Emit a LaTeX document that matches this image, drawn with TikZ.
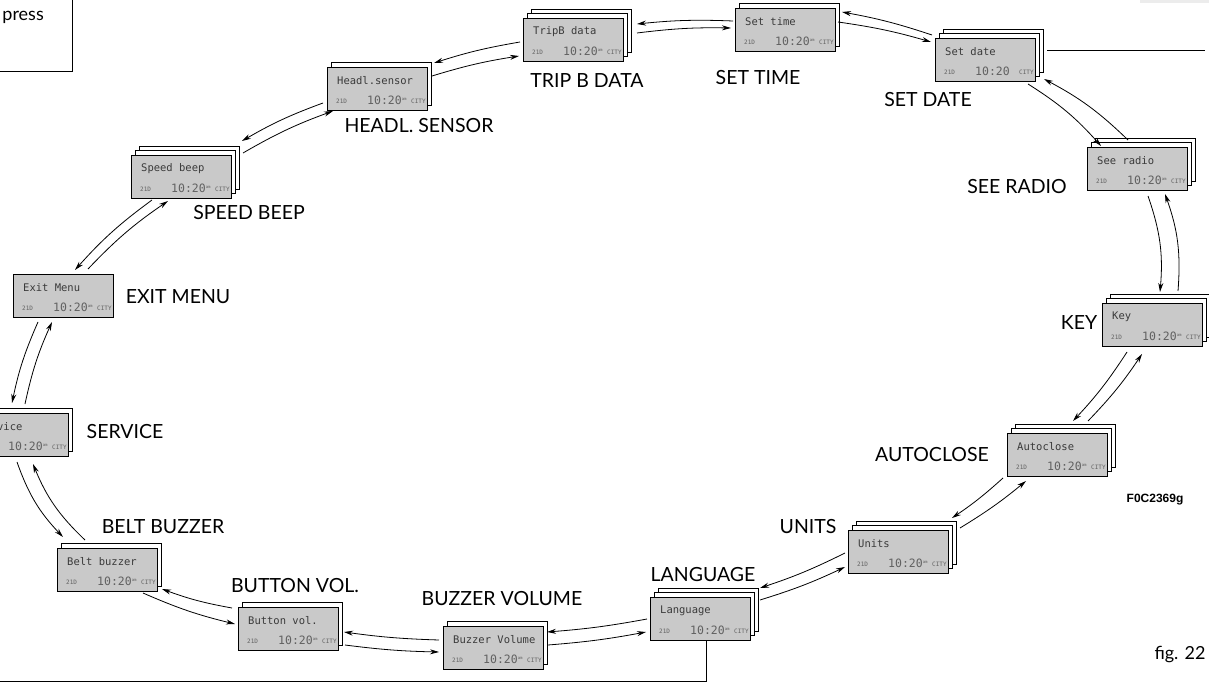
\documentclass[tikz,border=0pt]{standalone}
\usepackage{fontspec}
\setmainfont{Lato}
\newfontfamily\lcdfont{DejaVu Sans Mono}
\newfontfamily\codefont{Liberation Sans}
\usetikzlibrary{arrows.meta,calc}
\definecolor{lcdgray}{HTML}{C9C9C9}
\definecolor{lcdtext}{HTML}{3A3A3A}
\tikzset{
  screen/.style={draw=black, line width=0.9pt, fill=lcdgray, minimum width=100pt, minimum height=43pt, inner sep=0pt, anchor=north west},
  layer/.style={draw=black, line width=0.9pt, fill=white},
  ttl/.style={font=\lcdfont\fontsize{10.5}{10.5}\selectfont, text=lcdtext, anchor=west, inner sep=0pt},
  dig/.style={font=\lcdfont\fontsize{11.5}{11.5}\selectfont, text=black!62, anchor=west, inner sep=0pt},
  lcdsmall/.style={font=\lcdfont\fontsize{6}{6}\selectfont, text=black!62, anchor=west, inner sep=0pt},
  lbl/.style={font=\fontsize{19.5}{20}\selectfont, inner sep=0pt},
  conn/.style={line width=0.8pt, -{Stealth[length=9pt,width=5pt]}},
  plain/.style={line width=0.9pt},
}
\newcommand\amsup{\raisebox{4pt}{\fontsize{4}{4}\selectfont am}}
% name, x, y, back layers, title, superscript
\newcommand\lcdscreen[6]{%
  \ifnum#4>1 \draw[layer] (#2+8,#3-9) rectangle ++(100,43);\fi
  \ifnum#4>0 \draw[layer] (#2+4,#3-4.5) rectangle ++(100,43);\fi
  \node[screen] (#1) at (#2,#3) {};
  \node[ttl] (#1-t) at ($(#1.north west)+(10,14)$) {#5};
  \node[lcdsmall] (#1-s) at ($(#1.north west)+(9,34)$) {21D};
  \node[dig] (#1-d) at ($(#1.north west)+(40,33)$) {10:20#6};
  \node[lcdsmall] (#1-c) at ($(#1.north west)+(84,34)$) {CITY};
}
\begin{document}
\begin{tikzpicture}[x=1pt,y=-1pt]
\useasboundingbox (0,0) rectangle (1209,684);
\clip (0,0) rectangle (1209,684);
\fill[white] (0,0) rectangle (1209,684);
\fill[gray!15] (1140,0) rectangle (1209,3);

% top-left box
\coordinate (pb1) at (72,0);
\coordinate (pb2) at (72,71);
\coordinate (pb3) at (0,71);
\draw[plain] (pb1) -- (pb2) -- (pb3);
\node[font=\fontsize{18}{18}\selectfont, anchor=east, inner sep=0pt] (press) at (44,17) {press};

% screens
\lcdscreen{setdate}{935}{38}{2}{Set date}{}
\lcdscreen{settime}{735}{8}{1}{Set time}{\amsup}
\lcdscreen{tripb}{523}{18}{2}{TripB data}{\amsup}
\lcdscreen{headl}{327}{67}{1}{Headl.sensor}{\amsup}
\lcdscreen{speed}{131}{155}{2}{Speed beep}{\amsup}
\lcdscreen{exit}{13}{274}{0}{Exit Menu}{\amsup}
\lcdscreen{service}{-32}{413}{1}{Service}{\amsup}
\lcdscreen{belt}{57}{548}{1}{Belt buzzer}{\amsup}
\lcdscreen{button}{238}{607}{1}{Button vol.}{\amsup}
\lcdscreen{buzzer}{443}{626}{1}{Buzzer Volume}{\amsup}
\lcdscreen{language}{650}{597}{2}{Language}{\amsup}
\lcdscreen{units}{848}{530}{2}{Units}{\amsup}
\lcdscreen{autoclose}{1007}{433}{2}{Autoclose}{\amsup}
\lcdscreen{key}{1102}{303}{2}{Key}{\amsup}
\lcdscreen{seeradio}{1087}{147}{2}{See radio}{\amsup}

% side lines
\coordinate (rline) at (1205,50);
\draw[plain] ($(setdate.north west)+(112,12)$) -- (rline);
\coordinate (bl1) at (706,681);
\coordinate (bl2) at (0,681);
\draw[plain] ($(language.south west)+(56,0)$) -- (bl1) -- (bl2);

% connectors (inner clockwise, outer counter-clockwise)
\draw[conn] ($(exit.north west)+(75,-5)$) to[bend left=6] ($(speed.north west)+(37,46)$);
\draw[conn] ($(speed.north west)+(21,45)$) to[bend right=6] ($(exit.north west)+(62,-4)$);

\draw[conn] ($(speed.north west)+(112,-2)$) to[bend left=5] ($(headl.north west)+(6,44)$);
\draw[conn] ($(headl.north west)+(-4,36)$) to[bend right=5] ($(speed.north west)+(111,-14)$);

\draw[conn] ($(headl.north west)+(105,9)$) to[bend left=4] ($(tripb.north west)+(-4,38)$);
\draw[conn] ($(tripb.north west)+(-3,24)$) to[bend right=4] ($(headl.north west)+(107,-4)$);

\draw[conn] ($(tripb.north west)+(114,15)$) to[bend left=4] ($(settime.north west)+(-4,20)$);
\draw[conn] ($(settime.north west)+(-2,13)$) to[bend right=4] ($(tripb.north west)+(114,6)$);

\draw[conn] ($(settime.north west)+(103,14)$) to[bend left=4] ($(setdate.north west)+(-4,4)$);
\draw[conn] ($(setdate.north west)+(-3,-3)$) to[bend right=4] ($(settime.north west)+(107,4)$);

\draw[conn] ($(setdate.north west)+(93,46)$) to[bend left=8] ($(seeradio.north west)+(14,-1)$);
\draw[conn] ($(seeradio.north west)+(41,-7)$) to[bend right=8] ($(setdate.north west)+(109,41)$);

\draw[conn] ($(seeradio.north west)+(61,49)$) to[bend left=12] ($(key.north west)+(58,-11)$);
\draw[conn] ($(key.north west)+(76,-12)$) to[bend right=12] ($(seeradio.north west)+(78,47)$);

\draw[conn] ($(key.north west)+(25,49)$) to[bend left=5] ($(autoclose.north west)+(66,-12)$);
\draw[conn] ($(autoclose.north west)+(81,-12)$) to[bend right=5] ($(key.north west)+(40,51)$);

\draw[conn] ($(autoclose.north west)+(-4,45)$) to[bend left=4] ($(units.north west)+(104,-12)$);
\draw[conn] ($(units.north west)+(112,-2)$) to[bend right=4] ($(autoclose.north west)+(19,48)$);

\draw[conn] ($(units.north west)+(-3,23)$) to[bend left=4] ($(language.north west)+(110,-9)$);
\draw[conn] ($(language.north west)+(110,3)$) to[bend right=4] ($(units.north west)+(-3,37)$);

\draw[conn] ($(language.north west)+(-3,22)$) to[bend left=3] ($(buzzer.north west)+(104,6)$);
\draw[conn] ($(buzzer.north west)+(105,19)$) to[bend right=3] ($(language.north west)+(-4,35)$);

\draw[conn] ($(buzzer.north west)+(-4,14)$) to[bend left=3] ($(button.north west)+(106,25)$);
\draw[conn] ($(button.north west)+(107,38)$) to[bend right=3] ($(buzzer.north west)+(-4,26)$);

\draw[conn] ($(button.north west)+(-6,1)$) to[bend left=5] ($(belt.north west)+(105,41)$);
\draw[conn] ($(belt.north west)+(86,45)$) to[bend right=5] ($(button.north west)+(-3,17)$);

\draw[conn] ($(belt.north west)+(28,-8)$) to[bend left=12] ($(service.north west)+(65,51)$);
\draw[conn] ($(service.north west)+(49,49)$) to[bend right=12] ($(belt.north west)+(6,-11)$);

\draw[conn] ($(service.north west)+(57,-9)$) to[bend left=6] ($(exit.north west)+(39,48)$);
\draw[conn] ($(exit.north west)+(25,48)$) to[bend right=6] ($(service.north west)+(44,-10)$);

% labels
\node[lbl] (l-settime) at (758,78) {SET TIME};
\node[lbl] (l-tripb) at (587,81) {TRIP B DATA};
\node[lbl] (l-headl) at (419,126) {HEADL. SENSOR};
\node[lbl] (l-speed) at (249,213) {SPEED BEEP};
\node[lbl] (l-exit) at (178,297) {EXIT MENU};
\node[lbl] (l-service) at (125,432) {SERVICE};
\node[lbl] (l-belt) at (163,527) {BELT BUZZER};
\node[lbl] (l-button) at (295,586) {BUTTON VOL.};
\node[lbl] (l-buzzer) at (502,599) {BUZZER VOLUME};
\node[lbl] (l-language) at (703,575) {LANGUAGE};
\node[lbl] (l-units) at (808,527) {UNITS};
\node[lbl] (l-autoclose) at (932,455) {AUTOCLOSE};
\node[lbl] (l-key) at (1079,323) {KEY};
\node[lbl] (l-seeradio) at (1017,187) {SEE RADIO};
\node[lbl] (l-setdate) at (928,100) {SET DATE};
\node[font=\codefont\bfseries\fontsize{12}{12}\selectfont, inner sep=0pt] (code) at (1155,500) {F0C2369g};
\node[font=\fontsize{18}{18}\selectfont, inner sep=0pt] (fig) at (1180,655) {fig. 22};
\end{tikzpicture}
\end{document}
